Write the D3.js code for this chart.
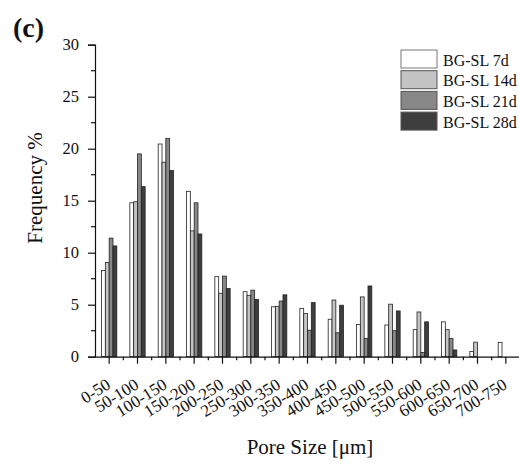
<!DOCTYPE html>
<html>
<head>
<meta charset="utf-8">
<script src="https://cdn.jsdelivr.net/npm/d3@7"></script>
<style>
  html, body { margin: 0; padding: 0; background: #fff; }
  svg { display: block; }
  text { font-family: "Liberation Serif", "Times New Roman", serif; fill: #111; }
</style>
</head>
<body>
<svg id="chart" width="519" height="464"></svg>
<script>
const categories = ["0-50","50-100","100-150","150-200","200-250","250-300","300-350","350-400","400-450","450-500","500-550","550-600","600-650","650-700","700-750"];
const seriesNames = ["BG-SL 7d","BG-SL 14d","BG-SL 21d","BG-SL 28d"];
const sl7d  = [8.3, 14.8, 20.45, 15.9, 7.7, 6.25, 4.8, 4.65, 3.6, 3.1, 3.05, 2.6, 3.35, 0.5, 1.38];
const sl14d = [9.05, 14.9, 18.7, 12.1, 6.1, 5.9, 4.85, 4.15, 5.45, 5.75, 5.05, 4.3, 2.6, 1.4, 0];
const sl21d = [11.4, 19.5, 21.0, 14.8, 7.75, 6.4, 5.35, 2.55, 2.3, 1.75, 2.5, 0.4, 1.75, 0, 0];
const sl28d = [10.65, 16.35, 17.9, 11.8, 6.55, 5.5, 5.95, 5.2, 4.95, 6.8, 4.4, 3.35, 0.65, 0, 0];
const yTicks = [0, 5, 10, 15, 20, 25, 30];
const colors = ["#ffffff", "#c4c4c4", "#888888", "#3e3e3e"];

const seriesValues = [sl7d, sl14d, sl21d, sl28d];
const svg = d3.select("#chart");
const mLeft = 95, mRight = 520, mTop = 44.7, mBottom = 356.7;

const x0 = d3.scaleBand().domain(categories).range([mLeft, mRight]).paddingInner(0).paddingOuter(0);
const bw = x0.bandwidth();
const x1 = d3.scaleBand().domain(seriesNames).range([bw * 0.23, bw * 0.77]).padding(0);
const y = d3.scaleLinear().domain([0, 30]).range([mBottom, mTop]);

// bars
const groups = svg.append("g").selectAll("g").data(categories).join("g")
  .attr("transform", d => `translate(${x0(d)},0)`);
groups.selectAll("rect")
  .data((c, i) => seriesNames.map((s, j) => ({ s, j, v: seriesValues[j][i] })).filter(d => d.v > 0))
  .join("rect")
  .attr("x", d => x1(d.s))
  .attr("y", d => y(d.v))
  .attr("width", x1.bandwidth())
  .attr("height", d => y(0) - y(d.v))
  .attr("fill", d => colors[d.j])
  .attr("stroke", "#222")
  .attr("stroke-width", 0.8);

// y axis
const yAxis = svg.append("g").attr("transform", `translate(${mLeft},0)`)
  .call(d3.axisLeft(y).tickValues(yTicks).tickSize(7).tickPadding(9));
yAxis.select(".domain").attr("stroke", "#111").attr("stroke-width", 1.2);
yAxis.selectAll(".tick line").attr("stroke", "#111").attr("stroke-width", 1.2);
yAxis.selectAll(".tick text").style("font-size", "16.5px").style("font-family", "Liberation Serif").attr("fill", "#111");
// minor y ticks
svg.append("g").selectAll("line").data(d3.range(2.5, 30, 5)).join("line")
  .attr("x1", mLeft - 4).attr("x2", mLeft)
  .attr("y1", d => y(d)).attr("y2", d => y(d))
  .attr("stroke", "#111").attr("stroke-width", 1.2);

// x axis
const xAxis = svg.append("g").attr("transform", `translate(0,${mBottom})`)
  .call(d3.axisBottom(x0).tickSize(7).tickSizeOuter(0));
xAxis.select(".domain").attr("stroke", "#111").attr("stroke-width", 1.2);
xAxis.selectAll(".tick line").attr("stroke", "#111").attr("stroke-width", 1.2);
xAxis.selectAll(".tick text")
  .style("font-size", "17px").style("font-family", "Liberation Serif").attr("fill", "#111")
  .attr("text-anchor", "end")
  .attr("x", 0).attr("y", 0)
  .attr("dy", "0.71em")
  .attr("transform", "translate(-3.9,20.6) rotate(-32)");
// minor x ticks at band boundaries
svg.append("g").selectAll("line").data(categories.slice(1)).join("line")
  .attr("x1", d => x0(d)).attr("x2", d => x0(d))
  .attr("y1", mBottom).attr("y2", mBottom + 3.5)
  .attr("stroke", "#111").attr("stroke-width", 1.2);

// axis titles
svg.append("text").attr("x", 310).attr("y", 454).attr("text-anchor", "middle")
  .style("font-size", "21px").text("Pore Size [μm]");
svg.append("text").attr("transform", "translate(42,188) rotate(-90)").attr("text-anchor", "middle")
  .style("font-size", "21px").text("Frequency %");

// panel label
svg.append("text").attr("x", 13).attr("y", 37).style("font-size", "28px").style("font-weight", "bold").text("(c)");

// legend
const legend = svg.append("g").attr("transform", "translate(401,50)");
const li = legend.selectAll("g").data(seriesNames).join("g")
  .attr("transform", (d, i) => `translate(0,${i * 20.7})`);
li.append("rect").attr("width", 36).attr("height", 18)
  .attr("fill", (d, i) => colors[i])
  .attr("stroke", (d, i) => i === 0 ? "#777" : "#555").attr("stroke-width", 1);
li.append("text").attr("x", 42).attr("y", 15.5).style("font-size", "16px").text(d => d);
</script>
</body>
</html>
